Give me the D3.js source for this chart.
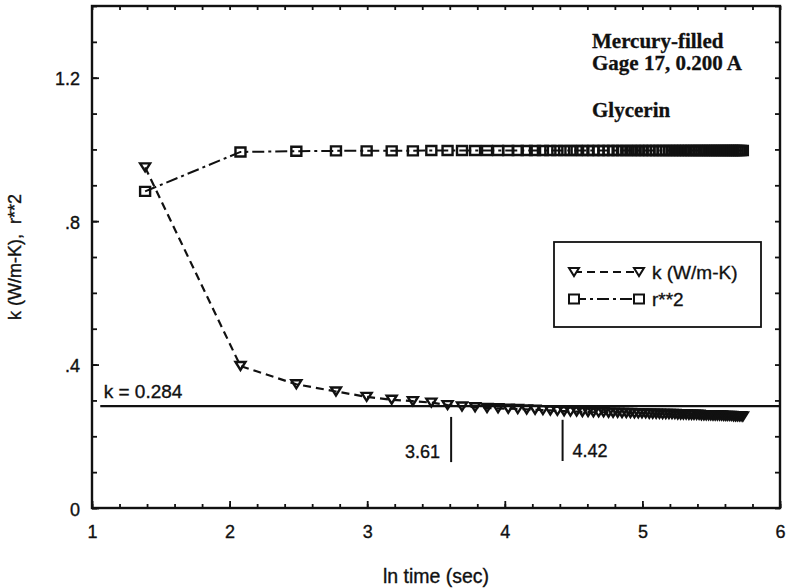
<!DOCTYPE html>
<html>
<head>
<meta charset="utf-8">
<script src="https://cdn.jsdelivr.net/npm/d3@7"></script>
<style>
  html, body { margin: 0; padding: 0; background: #fff; }
  svg { display: block; }
  text { fill: #111; }
  .sans { font-family: 'Liberation Sans', Arial, Helvetica, sans-serif; stroke: #111; stroke-width: 0.35px; }
</style>
</head>
<body>
<svg id="chart" width="791" height="588"></svg>
<script>
// ln of elapsed time (s) for each reading
const lnTime = [
  1.386, 2.079, 2.485, 2.773, 2.996, 3.178, 3.332, 3.466, 3.584, 3.689,
  3.784, 3.871, 3.951, 4.025, 4.094, 4.159, 4.220, 4.277, 4.331, 4.382,
  4.431, 4.477, 4.522, 4.564, 4.605, 4.644, 4.682, 4.718, 4.754, 4.787,
  4.820, 4.852, 4.883, 4.913, 4.942, 4.970, 4.997, 5.024, 5.050, 5.075,
  5.100, 5.124, 5.147, 5.170, 5.193, 5.215, 5.236, 5.257, 5.278, 5.298,
  5.318, 5.338, 5.357, 5.375, 5.394, 5.412, 5.429, 5.447, 5.464, 5.481,
  5.497, 5.513, 5.529, 5.545, 5.561, 5.576, 5.591, 5.606, 5.620, 5.635,
  5.649, 5.663, 5.677, 5.690, 5.704, 5.717, 5.730
];

// thermal conductivity estimate k (W/m-K)
const kValues = [
  0.950, 0.396, 0.345, 0.325, 0.310, 0.302, 0.298, 0.294, 0.287, 0.283,
  0.281, 0.279, 0.278, 0.277, 0.276, 0.275, 0.274, 0.273, 0.272, 0.271,
  0.270, 0.269, 0.269, 0.268, 0.268, 0.267, 0.267, 0.267, 0.266, 0.266,
  0.266, 0.265, 0.265, 0.265, 0.264, 0.264, 0.264, 0.264, 0.263, 0.263,
  0.263, 0.263, 0.262, 0.262, 0.262, 0.262, 0.262, 0.261, 0.261, 0.261,
  0.261, 0.260, 0.260, 0.260, 0.260, 0.260, 0.259, 0.259, 0.259, 0.259,
  0.259, 0.258, 0.258, 0.258, 0.258, 0.258, 0.257, 0.257, 0.257, 0.257,
  0.257, 0.256, 0.256, 0.256, 0.256, 0.256, 0.255
];

// correlation coefficient squared of each fit
const r2Values = [
  0.883, 0.993, 0.995, 0.996, 0.996, 0.996, 0.996, 0.997, 0.997, 0.997,
  0.997, 0.997, 0.997, 0.997, 0.997, 0.997, 0.997, 0.997, 0.997, 0.997,
  0.997, 0.997, 0.997, 0.997, 0.997, 0.997, 0.997, 0.997, 0.997, 0.997,
  0.997, 0.997, 0.997, 0.997, 0.997, 0.997, 0.997, 0.997, 0.997, 0.997,
  0.997, 0.997, 0.997, 0.997, 0.997, 0.997, 0.997, 0.997, 0.997, 0.997,
  0.997, 0.997, 0.997, 0.997, 0.997, 0.997, 0.997, 0.997, 0.997, 0.997,
  0.997, 0.997, 0.997, 0.997, 0.997, 0.997, 0.997, 0.997, 0.997, 0.997,
  0.997, 0.997, 0.997, 0.997, 0.997, 0.997, 0.997
];

const xTickValues = [1, 2, 3, 4, 5, 6];
const xTickLabels = ["1", "2", "3", "4", "5", "6"];
const yTickValues = [0, 0.4, 0.8, 1.2];
const yTickLabels = ["0", ".4", ".8", "1.2"];

const kFinal = 0.284;
const kFinalLabel = "k = 0.284";
const windowMarks = [
  { x: 3.61, label: "3.61", top: 0.254, bottom: 0.128, side: "left" },
  { x: 4.42, label: "4.42", top: 0.246, bottom: 0.131, side: "right" }
];
const noteLines = ["Mercury-filled", "Gage 17, 0.200 A", "", "Glycerin"];
const seriesNames = ["k (W/m-K)", "r**2"];

const W = 791, H = 588;
const margin = { left: 92, right: 11, top: 6, bottom: 80 };
const serif = "'Liberation Serif', 'Times New Roman', serif";
const ink = "#111";

const svg = d3.select("#chart");
const x = d3.scaleLinear().domain([1, 6]).range([margin.left, W - margin.right]);
const y = d3.scaleLinear().domain([0, 1.4]).range([H - margin.bottom, margin.top]);

const minorX = d3.range(10, 61, 2).map(v => v / 10);
const minorY = d3.range(0, 15, 1).map(v => v / 10);

function styleAxis(g) {
  g.select(".domain").remove();
  g.selectAll(".tick line").attr("stroke", ink).attr("stroke-width", 1.8);
}

// minor ticks on all four sides, pointing inward
svg.append("g").attr("transform", `translate(0,${y(0)})`)
  .call(d3.axisBottom(x).tickValues(minorX).tickSize(-4).tickFormat(""))
  .call(styleAxis);
svg.append("g").attr("transform", `translate(0,${y(1.4)})`)
  .call(d3.axisTop(x).tickValues(minorX).tickSize(-4).tickFormat(""))
  .call(styleAxis);
svg.append("g").attr("transform", `translate(${x(1)},0)`)
  .call(d3.axisLeft(y).tickValues(minorY).tickSize(-5).tickFormat(""))
  .call(styleAxis);
svg.append("g").attr("transform", `translate(${x(6)},0)`)
  .call(d3.axisRight(y).tickValues(minorY).tickSize(-5).tickFormat(""))
  .call(styleAxis);

// major ticks with labels
const xAxis = svg.append("g").attr("transform", `translate(0,${y(0)})`)
  .call(d3.axisBottom(x).tickValues(xTickValues).tickSize(-7).tickPadding(30)
    .tickFormat((d, i) => xTickLabels[i]))
  .call(styleAxis);
xAxis.selectAll("text").attr("class", "sans")
  .attr("font-size", 18).attr("fill", ink).attr("dy", 0);

const yAxis = svg.append("g").attr("transform", `translate(${x(1)},0)`)
  .call(d3.axisLeft(y).tickValues(yTickValues).tickSize(-7).tickPadding(12)
    .tickFormat((d, i) => yTickLabels[i]))
  .call(styleAxis);
yAxis.selectAll("text").attr("class", "sans")
  .attr("font-size", 18).attr("fill", ink).attr("dy", "0.4em");
svg.selectAll("g").attr("font-family", null);

// frame
svg.append("rect")
  .attr("x", x(1)).attr("y", y(1.4))
  .attr("width", x(6) - x(1)).attr("height", y(0) - y(1.4))
  .attr("fill", "none").attr("stroke", ink).attr("stroke-width", 2.4);

// axis titles
svg.append("text").attr("class", "sans")
  .attr("x", (x(1) + x(6)) / 2).attr("y", 583)
  .attr("text-anchor", "middle").attr("font-size", 19.5)
  .text("ln time (sec)");
svg.append("text").attr("class", "sans")
  .attr("transform", `translate(21,${(y(0) + y(1.4)) / 2}) rotate(-90)`)
  .attr("text-anchor", "middle").attr("font-size", 18)
  .text("k (W/m-K),\u00a0 r**2");

// final k reference line
svg.append("line")
  .attr("x1", x(1.06)).attr("x2", x(6))
  .attr("y1", y(kFinal)).attr("y2", y(kFinal))
  .attr("stroke", ink).attr("stroke-width", 2.2);
svg.append("text").attr("class", "sans")
  .attr("x", x(1.085)).attr("y", y(kFinal) - 8)
  .attr("font-size", 19)
  .text(kFinalLabel);

// fit window markers
windowMarks.forEach(m => {
  svg.append("line")
    .attr("x1", x(m.x)).attr("x2", x(m.x))
    .attr("y1", y(m.top)).attr("y2", y(m.bottom))
    .attr("stroke", ink).attr("stroke-width", 2);
  svg.append("text").attr("class", "sans")
    .attr("x", m.side === "left" ? x(m.x) - 11 : x(m.x) + 10)
    .attr("y", y(m.bottom) - 4)
    .attr("text-anchor", m.side === "left" ? "end" : "start")
    .attr("font-size", 18)
    .text(m.label);
});

// annotation block
const note = svg.append("text")
  .attr("font-family", serif).attr("font-size", 21).attr("font-weight", "bold")
  .attr("stroke", ink).attr("stroke-width", 0.3);
const noteY = [48, 70, 0, 117];
noteLines.forEach((t, i) => {
  if (!t) return;
  note.append("tspan").attr("x", 592).attr("y", noteY[i]).text(t);
});

// marker shapes
const triPath = s => `M${-s},${-s * 0.8}L${s},${-s * 0.8}L0,${s * 0.8}Z`;
const sqPath = s => `M${-s},${-s * 0.9}H${s}V${s * 0.9}H${-s}Z`;

const kData = lnTime.map((t, i) => [t, kValues[i]]);
const r2Data = lnTime.map((t, i) => [t, r2Values[i]]);
const line = d3.line().x(d => x(d[0])).y(d => y(d[1]));

svg.append("path").datum(r2Data)
  .attr("d", line).attr("fill", "none").attr("stroke", ink)
  .attr("stroke-width", 2).attr("stroke-dasharray", "12,4,3,4");
svg.append("path").datum(kData)
  .attr("d", line).attr("fill", "none").attr("stroke", ink)
  .attr("stroke-width", 2.2).attr("stroke-dasharray", "8,5");

svg.append("g").selectAll("path").data(r2Data).join("path")
  .attr("transform", d => `translate(${x(d[0])},${y(d[1])})`)
  .attr("d", sqPath(5)).attr("fill", "none")
  .attr("stroke", ink).attr("stroke-width", 2.4);
svg.append("g").selectAll("path").data(kData).join("path")
  .attr("transform", d => `translate(${x(d[0])},${y(d[1])})`)
  .attr("d", triPath(5)).attr("fill", "none")
  .attr("stroke", ink).attr("stroke-width", 2.4);

// legend
const lg = svg.append("g");
lg.append("rect").attr("x", 554).attr("y", 242).attr("width", 207).attr("height", 85)
  .attr("fill", "#fff").attr("stroke", ink).attr("stroke-width", 1.8);
const legendRows = [
  { name: seriesNames[0], y: 272, dash: "8,5", shape: triPath(5) },
  { name: seriesNames[1], y: 299, dash: "12,4,3,4", shape: sqPath(5) }
];
legendRows.forEach(r => {
  lg.append("line").attr("x1", 574).attr("x2", 639).attr("y1", r.y).attr("y2", r.y)
    .attr("stroke", ink).attr("stroke-width", 2).attr("stroke-dasharray", r.dash);
  [574, 639].forEach(px => {
    lg.append("path").attr("transform", `translate(${px},${r.y})`)
      .attr("d", r.shape).attr("fill", "#fff")
      .attr("stroke", ink).attr("stroke-width", 2);
  });
  lg.append("text").attr("class", "sans").attr("x", 652).attr("y", r.y).attr("dy", "0.36em")
    .attr("font-size", 19).text(r.name);
});
</script>
</body>
</html>
